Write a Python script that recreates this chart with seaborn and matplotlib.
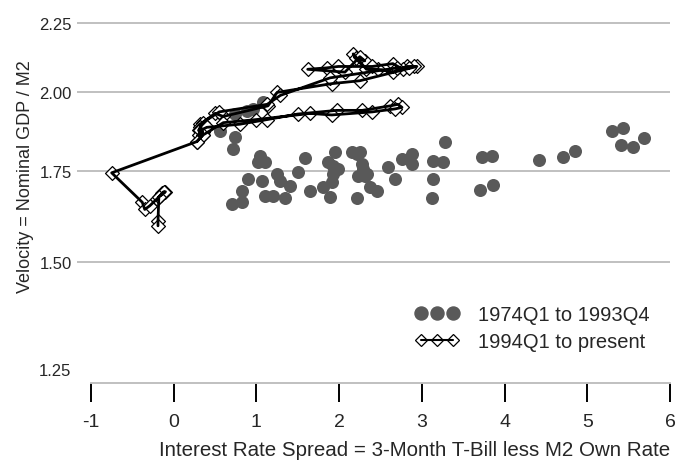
import matplotlib
matplotlib.use("Agg")
import matplotlib.pyplot as plt
from matplotlib.lines import Line2D
import seaborn as sns

# %%
# 1974Q1 to 1993Q4 (circles)
spread_early = [1.08, 0.96, 0.89, 0.74, 0.56, 0.74, 0.72, 1.04, 1.02, 1.10,
                1.59, 1.87, 1.25, 1.50, 0.90, 2.22, 2.28, 1.93, 1.07, 0.83,
                1.29, 1.41, 1.10, 1.20, 1.35, 0.71, 0.83, 1.65, 1.81, 1.89,
                2.22, 2.31, 2.37, 2.46, 3.28, 1.95, 2.16, 2.25, 1.93, 1.99,
                2.29, 2.34, 2.23, 1.91, 2.76, 2.88, 2.88, 3.14, 3.26, 3.14,
                3.12, 2.59, 2.68, 3.73, 3.85, 3.70, 3.86, 4.42, 4.71, 4.85,
                5.30, 5.43, 5.41, 5.55, 5.68]
velocity_early = [1.968, 1.945, 1.938, 1.928, 1.873, 1.854, 1.817, 1.796, 1.777, 1.777,
                  1.789, 1.777, 1.741, 1.747, 1.727, 1.802, 1.771, 1.741, 1.721, 1.692,
                  1.721, 1.706, 1.678, 1.678, 1.672, 1.655, 1.661, 1.692, 1.704, 1.675,
                  1.672, 1.736, 1.704, 1.692, 1.839, 1.808, 1.808, 1.808, 1.765, 1.756,
                  1.756, 1.741, 1.736, 1.718, 1.786, 1.802, 1.771, 1.780, 1.777, 1.727,
                  1.672, 1.762, 1.727, 1.793, 1.796, 1.695, 1.709, 1.783, 1.793, 1.811,
                  1.873, 1.883, 1.829, 1.823, 1.851]

# 1994Q1 to present (diamonds joined in time order)
spread_late = [0.28, 0.35, 0.32, 0.50, 0.60, 1.14, 1.25, 1.91, 2.25, 2.94,
               2.82, 2.65, 2.47, 2.33, 2.17, 2.20, 2.31, 2.25, 2.07, 1.62,
               1.85, 1.99, 2.40, 2.65, 2.77, 2.90, 2.85, 2.70, 1.89, 1.29,
               1.13, 0.55, 0.35, 0.32, 0.30, 0.33, 0.35, 0.30, 0.32, 0.40,
               0.80, 1.13, 1.50, 1.97, 2.28, 2.62, 2.71, 2.76, 2.68, 2.40,
               1.91, 1.65, 1.00, 0.60, 0.35, 0.28, -0.75, -0.38, -0.35, -0.29,
               -0.20, -0.14, -0.10, -0.15, -0.12, -0.18, -0.19, -0.19]
velocity_late = [1.840, 1.860, 1.895, 1.930, 1.920, 1.955, 2.000, 2.030, 2.040, 2.090,
                 2.090, 2.070, 2.080, 2.080, 2.135, 2.120, 2.110, 2.125, 2.070, 2.080,
                 2.085, 2.090, 2.090, 2.100, 2.080, 2.090, 2.085, 2.085, 2.050, 1.990,
                 1.960, 1.935, 1.900, 1.885, 1.875, 1.880, 1.870, 1.860, 1.875, 1.885,
                 1.895, 1.910, 1.928, 1.940, 1.940, 1.955, 1.960, 1.950, 1.945, 1.935,
                 1.925, 1.930, 1.910, 1.900, 1.860, 1.840, 1.745, 1.660, 1.640, 1.650,
                 1.670, 1.685, 1.690, 1.680, 1.690, 1.675, 1.607, 1.595]

y_ticks = [1.25, 1.50, 1.75, 2.00, 2.25]
y_tick_labels = ["1.25", "1.50", "1.75", "2.00", "2.25"]
x_ticks = [-1, 0, 1, 2, 3, 4, 5, 6]
x_tick_labels = ["-1", "0", "1", "2", "3", "4", "5", "6"]

labels = ["1974Q1 to 1993Q4", "1994Q1 to present"]

# %%
sns.set_style("white")
plt.rcParams["font.family"] = ["Liberation Sans", "DejaVu Sans"]
plt.rcParams["font.size"] = 12

dot_col = "#595959"
grid_col = "#c0c0c0"

fig, ax = plt.subplots(figsize=(6.83, 4.64), dpi=100)
fig.subplots_adjust(left=91 / 683, right=670 / 683, bottom=1 - 384 / 464, top=1 - 5 / 464)

sns.scatterplot(x=spread_early, y=velocity_early, color=dot_col, s=88,
                linewidth=0, ax=ax, zorder=2)
sns.scatterplot(x=spread_late, y=velocity_late, marker="D", facecolor="white",
                edgecolor="black", s=50, linewidth=0.9, ax=ax, zorder=3)
sns.lineplot(x=spread_late, y=velocity_late, sort=False, estimator=None,
             color="black", lw=2, ax=ax, zorder=4)

ax.set_yscale("log")
ax.set_xlim(-1, 6)
ax.set_ylim(1.2217, 2.3236)
ax.set_yticks(y_ticks)
ax.set_yticklabels(y_tick_labels)
ax.yaxis.set_minor_locator(matplotlib.ticker.NullLocator())
ax.set_xticks(x_ticks)
ax.set_xticklabels(x_tick_labels)

ax.yaxis.grid(True, color=grid_col, lw=1.4)
ax.xaxis.grid(False)
ax.set_axisbelow(True)
for s in ["top", "right", "left"]:
    ax.spines[s].set_visible(False)
ax.spines["bottom"].set_color(grid_col)
ax.spines["bottom"].set_linewidth(1.4)

ax.tick_params(axis="x", direction="out", length=13.7, width=1.4, color="black",
               pad=8, labelsize=14, bottom=True)
ax.tick_params(axis="y", direction="out", length=10, width=1.4, color=grid_col,
               pad=4, labelsize=12, left=True)

# 1.25 only carries a label
t0 = ax.yaxis.get_major_ticks()[0]
t0.gridline.set_visible(False)
t0.tick1line.set_visible(False)

ax.set_xlabel("Interest Rate Spread = 3-Month T-Bill less M2 Own Rate",
              fontsize=14.8, loc="right", labelpad=7)
ax.set_ylabel("Velocity = Nominal GDP / M2", fontsize=13)
ax.yaxis.set_label_coords(-0.098, 0.547)

handles = [
    Line2D([], [], marker="o", ls="none", color=dot_col, markersize=9.4),
    Line2D([], [], marker="D", color="black", lw=1.5, mfc="none", mec="black",
           mew=0.9, markersize=6.5),
]
ax.legend(handles, labels, loc="lower left", bbox_to_anchor=(0.546, 0.063),
          borderaxespad=0, frameon=False, numpoints=3, handlelength=2.2,
          handletextpad=0.9, fontsize=14.5, labelspacing=0.42)

plt.savefig("out.png", dpi=100)
